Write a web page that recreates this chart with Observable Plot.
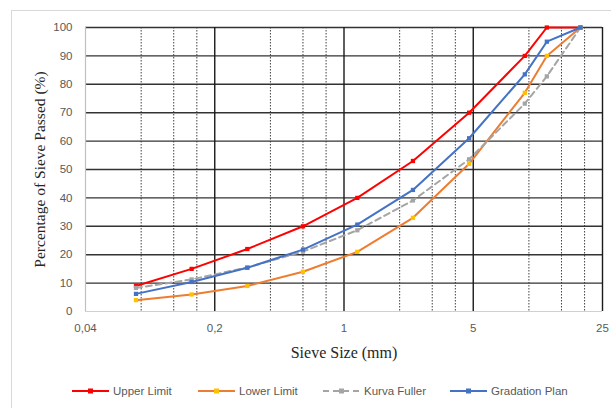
<!DOCTYPE html>
<html><head><meta charset="utf-8">
<script src="https://cdn.jsdelivr.net/npm/d3@7"></script>
<script src="https://cdn.jsdelivr.net/npm/@observablehq/plot@0.6"></script>
<style>
body{margin:0;background:#fff;width:611px;height:408px;overflow:hidden;position:relative;font-family:"Liberation Sans",Arial,sans-serif}
#frame{position:absolute;left:11px;top:10px;width:640px;height:420px;border:1px solid #d9d9d9;}
#chart{position:absolute;left:0;top:0}
#legend{position:absolute;top:383px;left:0;width:611px;height:16px}
.item{position:absolute;top:0;height:16px;display:flex;align-items:center;font-size:11.5px;color:#595959;white-space:nowrap}
.item svg{margin-right:4px}
</style></head><body>
<div id="frame"></div><div id="chart"></div><div id="legend"></div>
<script>
const sieve = [0.075, 0.15, 0.3, 0.6, 1.18, 2.36, 4.75, 9.5, 12.5, 19];
const upperLimit = [9, 15, 22, 30, 40, 53, 70, 90, 100, 100];
const lowerLimit = [4, 6, 9, 14, 21, 33, 52, 77, 90, 100];
const kurvaFuller = [8.3, 11.3, 15.5, 21.1, 28.6, 39.1, 53.6, 73.2, 82.8, 100];
const gradationPlan = [6.2, 10.4, 15.4, 21.8, 30.6, 42.8, 61, 83.5, 95, 100];
const seriesNames = ["Upper Limit", "Lower Limit", "Kurva Fuller", "Gradation Plan"];
const majorTicks = [0.04, 0.2, 1, 5, 25];
const majorTickLabels = ["0,04", "0,2", "1", "5", "25"];
const minorTicks = [0.08, 0.12, 0.16, 0.4, 0.6, 0.8, 2, 3, 4, 10, 15, 20];
const yTicks = [0, 10, 20, 30, 40, 50, 60, 70, 80, 90, 100];

const styles = [
  {line: "#FF0000", marker: "#FF0000", dash: null},
  {line: "#ED7D31", marker: "#FFC000", dash: null},
  {line: "#A5A5A5", marker: "#A5A5A5", dash: "6,4"},
  {line: "#4472C4", marker: "#4472C4", dash: null}
];
const values = [upperLimit, lowerLimit, kurvaFuller, gradationPlan];
const series = seriesNames.map((name, i) => ({
  name, ...styles[i],
  data: sieve.map((s, j) => ({size: s, pct: values[i][j]}))
}));

const marks = [
  Plot.ruleX(minorTicks, {stroke: "#404040", strokeWidth: 1, strokeDasharray: "1.5,1.5"}),
  Plot.ruleY(yTicks.filter(d => d > 0), {stroke: "#333", strokeWidth: 1.4}),
  Plot.ruleY([0], {stroke: "#d0d0d0", strokeWidth: 1.2}),
  Plot.ruleX(majorTicks.slice(1), {stroke: "#1a1a1a", strokeWidth: 1.4}),
  Plot.ruleX([0.04], {stroke: "#c0c0c0", strokeWidth: 1.2}),
  Plot.text(majorTicks, {x: d => d, text: (d, i) => majorTickLabels[i], frameAnchor: "bottom", lineAnchor: "middle", dy: 17, fontSize: 11.5, fill: "#595959"}),
  Plot.text(yTicks, {y: d => d, text: d => String(d), frameAnchor: "left", textAnchor: "end", dx: -13, fontSize: 11.5, fill: "#595959"}),
  Plot.text(["Percentage of Sieve Passed (%)"], {frameAnchor: "left", textAnchor: "middle", lineAnchor: "middle", dx: -45, rotate: -90, fontSize: 15.5, fontFamily: "Liberation Serif", fill: "#262626"}),
  Plot.text(["Sieve Size (mm)"], {frameAnchor: "bottom", textAnchor: "middle", lineAnchor: "middle", dy: 41, fontSize: 16, fontFamily: "Liberation Serif", fill: "#262626"})
];
for (const s of series) {
  marks.push(Plot.line(s.data, {x: "size", y: "pct", stroke: s.line, strokeWidth: 2, strokeDasharray: s.dash}));
  marks.push(Plot.dot(s.data, {x: "size", y: "pct", symbol: "square", r: 2.4, fill: s.marker, stroke: "none"}));
}

const chart = Plot.plot({
  width: 611, height: 365,
  marginLeft: 85, marginRight: 9, marginTop: 27, marginBottom: 54,
  style: {fontFamily: "Liberation Sans, Arial, sans-serif", background: "transparent", overflow: "visible"},
  x: {type: "log", domain: [0.04, 25], axis: null},
  y: {domain: [0, 100], axis: null},
  marks
});
document.getElementById("chart").appendChild(chart);

const legendPos = [72, 198, 323, 450];
const legend = document.getElementById("legend");
series.forEach((s, i) => {
  const item = document.createElement("div");
  item.className = "item";
  item.style.left = legendPos[i] + "px";
  const dash = s.dash ? `stroke-dasharray="${s.dash}"` : "";
  item.innerHTML = `<svg width="37" height="10"><line x1="0" y1="5" x2="37" y2="5" stroke="${s.line}" stroke-width="2" ${dash}/><rect x="16" y="2.5" width="5" height="5" fill="${s.marker}"/></svg><span>${s.name}</span>`;
  legend.appendChild(item);
});
</script>
</body></html>
